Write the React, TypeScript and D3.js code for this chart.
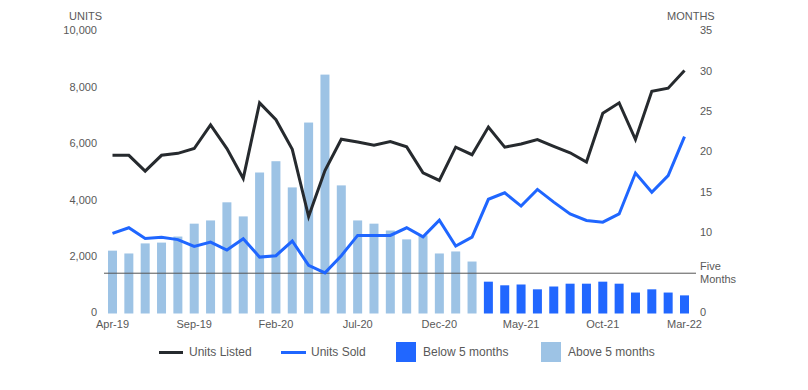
import React from "react";
import * as d3 from "d3";

const months = [
  "Apr-19","May-19","Jun-19","Jul-19","Aug-19","Sep-19","Oct-19","Nov-19","Dec-19",
  "Jan-20","Feb-20","Mar-20","Apr-20","May-20","Jun-20","Jul-20","Aug-20","Sep-20",
  "Oct-20","Nov-20","Dec-20","Jan-21","Feb-21","Mar-21","Apr-21","May-21","Jun-21",
  "Jul-21","Aug-21","Sep-21","Oct-21","Nov-21","Dec-21","Jan-22","Feb-22","Mar-22",
];
const tickMonths = ["Apr-19", "Sep-19", "Feb-20", "Jul-20", "Dec-20", "May-21", "Oct-21", "Mar-22"];

const unitsListed = [
  5610, 5610, 5050, 5610, 5680, 5850, 6690, 5850, 4790, 7470, 6870, 5820, 3440, 5070, 6180,
  6080, 5970, 6100, 5910, 4990, 4720, 5900, 5630, 6610, 5900, 6010, 6170, 5930, 5700, 5370, 7100,
  7470, 6170, 7880, 7990, 8620,
];
const unitsSold = [
  2840, 3040, 2660, 2700, 2620, 2380, 2530, 2250, 2650, 2000, 2050, 2570, 1710, 1440, 2050,
  2770, 2770, 2770, 3040, 2720, 3310, 2390, 2710, 4050, 4280, 3810, 4400, 3950, 3530, 3300, 3240,
  3530, 4980, 4300, 4890, 6270,
];
const monthsSupply = [
  7.8, 7.45, 8.7, 8.8, 9.55, 11.15, 11.55, 13.8, 12.05, 17.5, 18.9, 15.65, 23.7, 29.65, 15.9,
  11.55, 11.15, 10.3, 9.2, 9.7, 7.45, 7.7, 6.45,
  3.95, 3.5, 3.6, 3.0, 3.35, 3.7, 3.7, 3.95, 3.7, 2.6, 3.0, 2.6, 2.25,
];
const leftTicks = [0, 2000, 4000, 6000, 8000, 10000];
const rightTicks = [0, 5, 10, 15, 20, 25, 30, 35];
const threshold = 5;

const W = 808;
const H = 390;
const FONT = "'Liberation Sans', Arial, sans-serif";
const TEXT = "#595959";
const DARK = "#262a2e";
const BLUE = "#1f66ff";
const BAR_DARK = "#2167ff";
const BAR_LIGHT = "#9dc3e5";

export default function App() {
  const x = d3.scalePoint<string>().domain(months).range([112.5, 684.5]);
  const yL = d3.scaleLinear().domain([0, 10000]).range([313.5, 31.5]);
  const yR = d3.scaleLinear().domain([0, 35]).range([313.5, 31.5]);
  const barW = 9;

  const lineL = d3
    .line<number>()
    .x((_, i) => x(months[i]) as number)
    .y((d) => yL(d));

  const fmt = d3.format(",");

  return (
    <svg
      width={W}
      height={H}
      style={{ position: "absolute", left: 0, top: 0, fontFamily: FONT }}
    >
      <rect width={W} height={H} fill="#fff" />
      {/* bars */}
      {monthsSupply.map((v, i) => (
        <rect
          key={i}
          x={(x(months[i]) as number) - barW / 2}
          y={yR(v)}
          width={barW}
          height={yR(0) - yR(v)}
          fill={v < threshold ? BAR_DARK : BAR_LIGHT}
        />
      ))}
      {/* five months line */}
      <line x1={104} x2={696} y1={yR(threshold)} y2={yR(threshold)} stroke="#555" strokeWidth={1} />
      <text x={700} y={yR(threshold) - 6.5} fontSize={11} fill={TEXT} dominantBaseline="middle">Five</text>
      <text x={700} y={yR(threshold) + 6.5} fontSize={11} fill={TEXT} dominantBaseline="middle">Months</text>
      {/* lines */}
      <path d={lineL(unitsListed) || ""} fill="none" stroke={DARK} strokeWidth={3} strokeLinejoin="miter" />
      <path d={lineL(unitsSold) || ""} fill="none" stroke={BLUE} strokeWidth={3} strokeLinejoin="miter" />
      {/* left axis */}
      {leftTicks.map((t) => (
        <text key={t} x={97} y={yL(t)} fontSize={11} fill={TEXT} textAnchor="end" dominantBaseline="middle">
          {fmt(t)}
        </text>
      ))}
      <text x={102} y={17} fontSize={11} fill={TEXT} textAnchor="end" dominantBaseline="middle">UNITS</text>
      {/* right axis */}
      {rightTicks.filter((t) => t !== threshold).map((t) => (
        <text key={t} x={700} y={yR(t)} fontSize={11} fill={TEXT} dominantBaseline="middle">
          {t}
        </text>
      ))}
      <text x={667} y={17} fontSize={11} fill={TEXT} dominantBaseline="middle">MONTHS</text>
      {/* x labels */}
      {tickMonths.map((m) => (
        <text key={m} x={x(m) as number} y={325} fontSize={11} fill={TEXT} textAnchor="middle" dominantBaseline="middle">
          {m}
        </text>
      ))}
      {/* legend */}
      <g fontSize={12} fill={TEXT}>
        <line x1={159} x2={183} y1={352.5} y2={352.5} stroke={DARK} strokeWidth={3} />
        <text x={189} y={352.5} dominantBaseline="middle">Units Listed</text>
        <line x1={281} x2={306} y1={352.5} y2={352.5} stroke={BLUE} strokeWidth={3} />
        <text x={311} y={352.5} dominantBaseline="middle">Units Sold</text>
        <rect x={396} y={342} width={20} height={20} fill={BAR_DARK} />
        <text x={423} y={352.5} dominantBaseline="middle">Below 5 months</text>
        <rect x={541} y={342} width={20} height={20} fill={BAR_LIGHT} />
        <text x={568} y={352.5} dominantBaseline="middle">Above 5 months</text>
      </g>
    </svg>
  );
}
